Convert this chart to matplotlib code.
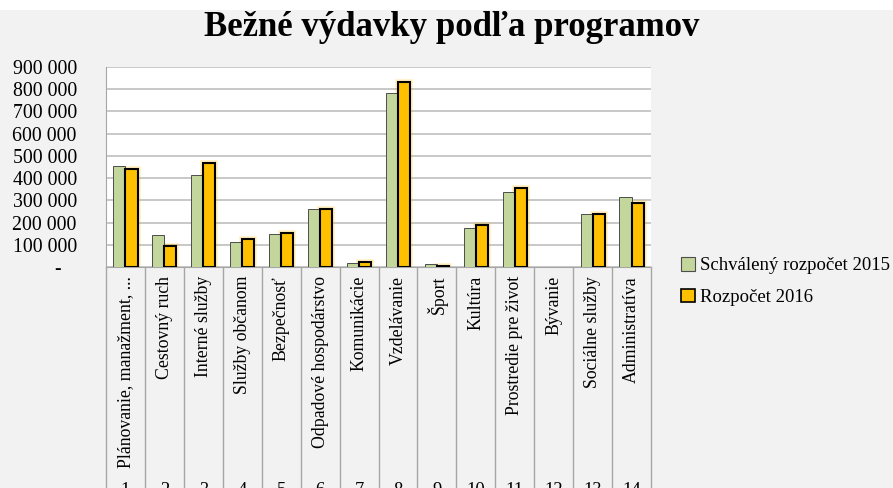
import numpy as np
import matplotlib
matplotlib.use("Agg")
import matplotlib.pyplot as plt
from matplotlib.patches import Patch
import matplotlib.transforms as mtrans

plt.rcParams['font.family'] = ['Liberation Serif', 'DejaVu Serif']

# data
categories = ["Plánovanie, manažment, ...", "Cestovný ruch", "Interné služby",
              "Služby občanom", "Bezpečnosť", "Odpadové hospodárstvo",
              "Komunikácie", "Vzdelávanie", "Šport", "Kultúra",
              "Prostredie pre život", "Bývanie", "Sociálne služby",
              "Administratíva"]
numbers = [str(i) for i in range(1, 15)]
budget_2015 = [456000, 142000, 414000, 111000, 148000, 261000, 18000,
               783000, 12000, 175000, 337000, 0, 238000, 313000]
budget_2016 = [442000, 96000, 466000, 124000, 151000, 261000, 24000,
               834000, 3000, 187000, 357000, 0, 238000, 286000]
series_names = ["Schválený rozpočet 2015", "Rozpočet 2016"]
yticks = list(range(0, 900001, 100000))
ytick_labels = ["-   "] + ["%d 000" % (v // 1000) for v in yticks[1:]]

green = "#c3d69b"
orange = "#ffc000"
bg = "#f2f2f2"
gridc = "#bfbfbf"

W, H = 893, 488
fig = plt.figure(figsize=(W / 100, H / 100), dpi=100)
fig.patch.set_facecolor(bg)
# white strip at the very top
fig.add_artist(plt.Rectangle((0, 1 - 10 / H), 1, 10 / H, transform=fig.transFigure,
                             facecolor="white", edgecolor="none"))

ax = fig.add_axes([106 / W, (H - 267) / H, (651 - 106) / W, 200 / H])
ax.set_facecolor("white")

x = np.arange(len(categories))
bw = 0.31
v15 = np.array(budget_2015)
v16 = np.array(budget_2016)
lw15 = np.where(v15 > 0, 0.7, 0)
lw16 = np.where(v16 > 0, 1.5, 0)
ax.bar(x - bw / 2, v15, bw, color=green, edgecolor="#4d4d4d", linewidth=lw15, zorder=3)
# soft glow behind the 2016 bars
ax.bar(x + bw / 2, v16, bw, color="none", edgecolor=orange, linewidth=np.where(v16 > 0, 4, 0),
       alpha=0.25, zorder=2)
ax.bar(x + bw / 2, v16, bw, color=orange, edgecolor="black", linewidth=lw16, zorder=3)

ax.set_xlim(-0.5, len(categories) - 0.5)
ax.set_ylim(0, 900000)
ax.set_yticks(yticks)
ax.set_yticklabels(ytick_labels, fontsize=14.3)
ax.tick_params(axis="y", length=0, pad=21)
ax.set_xticks([])
ax.grid(axis="y", color=gridc, linewidth=1.2, zorder=0)
for s in ["top", "right"]:
    ax.spines[s].set_visible(False)
ax.spines["left"].set_color("#a6a6a6")
ax.spines["bottom"].set_color("#a6a6a6")

# category separators running down through the label area
trans = mtrans.blended_transform_factory(ax.transData, ax.transAxes)
for b in np.arange(-0.5, len(categories), 1.0):
    ax.plot([b, b], [0, -1.5], transform=trans, color="#a6a6a6", linewidth=1,
            clip_on=False, zorder=1)

# two-level category labels
lab_off = mtrans.offset_copy(trans, fig=fig, x=0, y=-9 * 0.72, units="points")
num_off = mtrans.offset_copy(trans, fig=fig, x=0, y=-(482 - 267) * 0.72, units="points")
for i, (c, n) in enumerate(zip(categories, numbers)):
    ax.text(i, 0, c, rotation=90, ha="center", va="top", fontsize=12.8,
            transform=lab_off, clip_on=False)
    ax.text(i, 0, n, ha="center", va="top", fontsize=13.3,
            transform=num_off, clip_on=False)

fig.text(452 / W, 1 - 27 / H, "Bežné výdavky podľa programov", ha="center", va="center",
         fontsize=25, fontweight="bold")

handles = [Patch(facecolor=green, edgecolor="#4d4d4d", linewidth=0.8),
           Patch(facecolor=orange, edgecolor="black", linewidth=1.2)]
fig.legend(handles, series_names, loc="upper left", bbox_to_anchor=(672 / W, 1 - 248 / H),
           frameon=False, fontsize=13.5, handlelength=0.7, handleheight=0.7,
           handletextpad=0.3, labelspacing=0.75, borderpad=0)

fig.savefig("out.png", dpi=100, facecolor=bg)
